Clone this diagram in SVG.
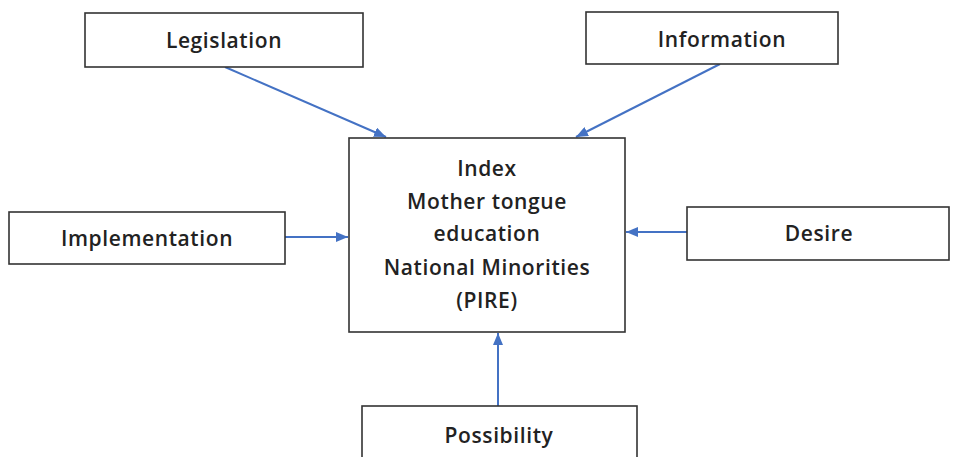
<svg xmlns="http://www.w3.org/2000/svg" width="958" height="457" viewBox="0 0 958 457">
<style>
.box{fill:#fff;stroke:#333;stroke-width:1.6}
.t{font-family:"Open Sans","Liberation Sans",sans-serif;font-size:21px;font-weight:600;letter-spacing:0.6px;fill:#222;text-anchor:middle}
.c{stroke:#4472C4;stroke-width:2;fill:none;marker-end:url(#ah)}
</style>
<defs>
<marker id="ah" viewBox="0 0 12 10" refX="12" refY="5" markerWidth="12" markerHeight="10" markerUnits="userSpaceOnUse" orient="auto">
<path d="M0,0 L12,5 L0,10 z" fill="#4472C4"/>
</marker>
</defs>
<rect width="958" height="457" fill="#fff"/>
<g id="connectors">
<line class="c" x1="225" y1="67" x2="386" y2="137"/>
<line class="c" x1="720" y1="64" x2="576" y2="137"/>
<line class="c" x1="285" y1="237" x2="348" y2="237"/>
<line class="c" x1="687" y1="232" x2="626" y2="232"/>
<line class="c" x1="498" y1="406" x2="498" y2="333"/>
</g>
<g id="legislation">
<rect class="box" x="85" y="13" width="278" height="54"/>
<text class="t" x="224" y="48">Legislation</text>
</g>
<g id="information">
<rect class="box" x="586" y="12" width="252" height="52"/>
<text class="t" x="722" y="47">Information</text>
</g>
<g id="index">
<rect class="box" x="349" y="138" width="276" height="194"/>
<text class="t" x="487" y="176">Index</text>
<text class="t" x="487" y="209">Mother tongue</text>
<text class="t" x="487" y="241">education</text>
<text class="t" x="487" y="275">National Minorities</text>
<text class="t" x="487" y="308">(PIRE)</text>
</g>
<g id="implementation">
<rect class="box" x="9" y="212" width="276" height="52"/>
<text class="t" x="147" y="246">Implementation</text>
</g>
<g id="desire">
<rect class="box" x="687" y="207" width="262" height="53"/>
<text class="t" x="819" y="241">Desire</text>
</g>
<g id="possibility">
<rect class="box" x="362" y="406" width="275" height="60"/>
<text class="t" x="499" y="443">Possibility</text>
</g>
</svg>
